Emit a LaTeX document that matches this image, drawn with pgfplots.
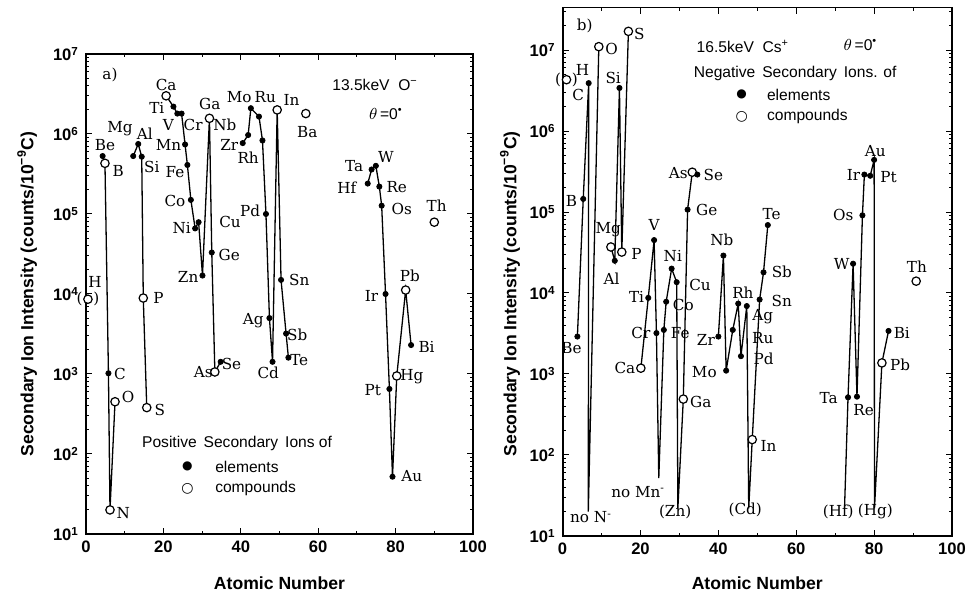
\documentclass[border=0pt]{standalone}
\usepackage{pgfplots}
\pgfplotsset{compat=1.18}
\usepackage{pgfplotstable}
\usepackage{fontspec}
\setmainfont{Liberation Sans}
\newfontfamily\serif{DejaVu Serif}
\newfontfamily\sym{DejaVu Sans}

% panel a: positive secondary ions (13.5 keV O-)
\pgfplotstableread{
z v c
0.5 8600 c
nan nan n
4.3 530000 e
4.9 430000 c
5.8 1020 e
6.2 20 c
7.5 450 c
nan nan n
12.2 530000 e
13.5 750000 e
14.4 520000 e
14.8 8900 c
15.7 380 c
nan nan n
20.7 3000000 c
22.6 2200000 e
23.6 1800000 e
24.7 1800000 e
25.6 740000 e
26.2 410000 e
27.1 150000 e
28.2 66000 e
29.1 79000 e
30.1 17000 e
31.9 1570000 c
32.5 33000 e
33.3 1060 c
34.8 1420 e
nan nan n
40.5 770000 e
41.9 970000 e
42.6 2100000 e
44.7 1650000 e
45.6 830000 e
46.5 100000 e
47.4 5000 e
48.2 1420 e
49.4 2000000 c
50.4 15000 e
51.7 3200 e
52.3 1600 e
nan nan n
56.8 1800000 c
nan nan n
72.8 240000 e
73.8 360000 e
74.9 400000 e
75.8 220000 e
76.4 127000 e
77.4 10000 e
78.4 650 e
79.2 52 e
80.3 945 c
82.6 11200 c
84.0 2300 e
nan nan n
90.0 79000 c
}\tabA

% panel b: negative secondary ions (16.5 keV Cs+)
\pgfplotstableread{
z v c
1.0 4300000 c
nan nan n
3.8 2900 e
5.3 145000 e
6.7 3900000 e
6.6 20 n
9.3 11000000 c
nan nan n
12.4 37000 c
13.4 25000 e
14.6 3400000 e
15.2 32000 c
16.9 17000000 c
nan nan n
20.1 1180 c
22.0 8700 e
23.5 45000 e
24.1 3200 e
24.7 52 n
26.0 3500 e
26.6 7800 e
28.0 20000 e
29.3 13600 e
29.6 22 n
31.0 490 c
32.1 107000 e
33.3 310000 c
34.6 290000 e
nan nan n
40.0 2900 e
41.3 29000 e
42.0 1100 e
43.7 3500 e
45.1 7400 e
45.8 1660 e
47.3 6900 e
47.8 22 n
48.7 155 c
50.6 8300 e
51.6 18000 e
52.7 69000 e
nan nan n
72.4 22 n
73.3 515 e
74.6 23000 e
75.6 525 e
77.0 91000 e
77.5 290000 e
79.0 280000 e
80.0 440000 e
80.1 22 n
82.0 1370 c
83.7 3400 e
nan nan n
90.8 14000 c
}\tabB

\tikzset{
  lab/.style={font=\fontsize{7.6}{8}\selectfont\serif, inner sep=0pt},
  txt/.style={font=\fontsize{7.8}{9}\selectfont, inner sep=0pt},
}

\begin{document}
\begin{tikzpicture}
\path[use as bounding box] (0,0) rectangle (488pt,296pt);

% ---------------- panel a ----------------
\begin{axis}[at={(43pt,29pt)}, anchor=south west,
  scale only axis, width=193.5pt, height=240pt,
  ymode=log, log basis y=10, ymin=10, ymax=10000000, xmin=0, xmax=100,
  xtick={0,20,40,60,80,100}, minor xtick={10,30,50,70,90},
  ytick={10,100,1000,10000,100000,1000000,10000000},
  yticklabels={10\textsuperscript{1},10\textsuperscript{2},10\textsuperscript{3},10\textsuperscript{4},10\textsuperscript{5},10\textsuperscript{6},10\textsuperscript{7}},
  minor ytick={20,30,40,50,60,70,80,90,200,300,400,500,600,700,800,900,2000,3000,4000,5000,6000,7000,8000,9000,20000,30000,40000,50000,60000,70000,80000,90000,200000,300000,400000,500000,600000,700000,800000,900000,2000000,3000000,4000000,5000000,6000000,7000000,8000000,9000000},
  tick align=inside, major tick length=3.2pt, minor tick length=1.7pt,
  axis line style={line width=0.9pt},
  every tick/.style={black, line width=0.5pt},
  tick label style={font=\fontsize{8.3}{9}\selectfont\bfseries},
  /pgf/number format/assume math mode=true,
  clip=false, unbounded coords=jump,
  label style={font=\fontsize{8.8}{10}\selectfont\bfseries},
  ylabel={Secondary Ion Intensity (counts/10\textsuperscript{−9}C)},
  xlabel={Atomic Number},
  xlabel style={at={(axis description cs:0.5,-0.102)}, anchor=center},
  ylabel style={at={(axis description cs:-0.152,0.5)}, anchor=center}]
\addplot[black, line width=0.65pt, mark=none, forget plot] table[x=z, y=v] {\tabA};
\addplot[scatter, only marks, forget plot, point meta=explicit symbolic,
    scatter/classes={
      e={mark=*, mark size=1.3pt, draw=black, fill=black},
      c={mark=*, mark size=2.1pt, draw=black, fill=white, line width=0.6pt},
      n={mark=none}}] table[x=z, y=v, meta=c] {\tabA};
\node[lab] at (axis cs:0.5,8600) {(\hspace{5.5pt})};
\node[lab] at (axis cs:2.3,14000) {H};
\node[lab] at (axis cs:4.9,730000) {Be};
\node[lab] at (axis cs:8.3,350000) {B};
\node[lab] at (axis cs:8.8,1170000) {Mg};
\node[lab] at (axis cs:15.2,1020000) {Al};
\node[lab] at (axis cs:17.0,390000) {Si};
\node[lab] at (axis cs:8.8,1000) {C};
\node[lab] at (axis cs:10.9,520) {O};
\node[lab] at (axis cs:9.6,18) {N};
\node[lab] at (axis cs:18.7,8900) {P};
\node[lab] at (axis cs:19.1,355) {S};
\node[lab] at (axis cs:20.7,4100000) {Ca};
\node[lab] at (axis cs:18.3,2100000) {Ti};
\node[lab] at (axis cs:21.3,1300000) {V};
\node[lab] at (axis cs:27.7,1300000) {Cr};
\node[lab] at (axis cs:21.3,730000) {Mn};
\node[lab] at (axis cs:23.0,330000) {Fe};
\node[lab] at (axis cs:23.0,145000) {Co};
\node[lab] at (axis cs:24.7,66000) {Ni};
\node[lab] at (axis cs:37.2,79000) {Cu};
\node[lab] at (axis cs:26.4,16500) {Zn};
\node[lab] at (axis cs:32.0,2400000) {Ga};
\node[lab] at (axis cs:37.0,31000) {Ge};
\node[lab] at (axis cs:30.3,1070) {As};
\node[lab] at (axis cs:37.6,1330) {Se};
\node[lab] at (axis cs:35.9,1300000) {Nb};
\node[lab] at (axis cs:39.6,2900000) {Mo};
\node[lab] at (axis cs:46.3,2900000) {Ru};
\node[lab] at (axis cs:53.1,2700000) {In};
\node[lab] at (axis cs:37.0,730000) {Zr};
\node[lab] at (axis cs:41.9,510000) {Rh};
\node[lab] at (axis cs:42.4,110000) {Pd};
\node[lab] at (axis cs:43.2,4700) {Ag};
\node[lab] at (axis cs:47.1,1020) {Cd};
\node[lab] at (axis cs:55.1,14800) {Sn};
\node[lab] at (axis cs:54.6,3100) {Sb};
\node[lab] at (axis cs:55.1,1500) {Te};
\node[lab] at (axis cs:57.2,1070000) {Ba};
\node[lab] at (axis cs:69.3,400000) {Ta};
\node[lab] at (axis cs:77.5,520000) {W};
\node[lab] at (axis cs:67.4,210000) {Hf};
\node[lab] at (axis cs:80.3,220000) {Re};
\node[lab] at (axis cs:81.6,117000) {Os};
\node[lab] at (axis cs:90.6,126000) {Th};
\node[lab] at (axis cs:73.8,9400) {Ir};
\node[lab] at (axis cs:83.7,16800) {Pb};
\node[lab] at (axis cs:88.0,2150) {Bi};
\node[lab] at (axis cs:84.2,930) {Hg};
\node[lab] at (axis cs:74.1,630) {Pt};
\node[lab] at (axis cs:84.2,53) {Au};
\node[lab] at (axis cs:6.2,5500000) {a)};
\node[txt] at (axis cs:74.7,4100000) {13.5keV\; O\textsuperscript{−}};
\node[txt] at (axis cs:77.5,1800000) {$\theta$\,=0\textsuperscript{•}};
\node[txt, anchor=west] at (axis cs:14.4,135) {Positive\, Secondary\, Ions of};
\node[txt] at (axis cs:26.2,69) {{\sym\fontsize{6}{6}\selectfont ●}};
\node[txt, anchor=west] at (axis cs:33.3,69) {elements};
\node[txt] at (axis cs:26.2,37) {{\sym\fontsize{7}{7}\selectfont ○}};
\node[txt, anchor=west] at (axis cs:33.3,37) {compounds};
\end{axis}

% ---------------- panel b ----------------
\begin{axis}[at={(281.3pt,28pt)}, anchor=south west,
  scale only axis, width=194.7pt, height=264.25pt,
  ymode=log, log basis y=10, ymin=10, ymax=33500000, xmin=0, xmax=100,
  xtick={0,20,40,60,80,100}, minor xtick={10,30,50,70,90},
  ytick={10,100,1000,10000,100000,1000000,10000000},
  yticklabels={10\textsuperscript{1},10\textsuperscript{2},10\textsuperscript{3},10\textsuperscript{4},10\textsuperscript{5},10\textsuperscript{6},10\textsuperscript{7}},
  minor ytick={20,30,40,50,60,70,80,90,200,300,400,500,600,700,800,900,2000,3000,4000,5000,6000,7000,8000,9000,20000,30000,40000,50000,60000,70000,80000,90000,200000,300000,400000,500000,600000,700000,800000,900000,2000000,3000000,4000000,5000000,6000000,7000000,8000000,9000000,20000000,30000000},
  tick align=inside, major tick length=3.2pt, minor tick length=1.7pt,
  axis line style={line width=0.9pt},
  every tick/.style={black, line width=0.5pt},
  tick label style={font=\fontsize{8.3}{9}\selectfont\bfseries},
  /pgf/number format/assume math mode=true,
  clip=false, unbounded coords=jump,
  label style={font=\fontsize{8.8}{10}\selectfont\bfseries},
  ylabel={Secondary Ion Intensity (counts/10\textsuperscript{−9}C)},
  xlabel={Atomic Number},
  xlabel style={at={(axis description cs:0.5,-0.089)}, anchor=center},
  ylabel style={at={(axis description cs:-0.135,0.458)}, anchor=center}]
\addplot[black, line width=0.65pt, mark=none, forget plot] table[x=z, y=v] {\tabB};
\addplot[scatter, only marks, forget plot, point meta=explicit symbolic,
    scatter/classes={
      e={mark=*, mark size=1.3pt, draw=black, fill=black},
      c={mark=*, mark size=2.1pt, draw=black, fill=white, line width=0.6pt},
      n={mark=none}}] table[x=z, y=v, meta=c] {\tabB};
\node[lab] at (axis cs:1.0,4300000) {(\hspace{5.5pt})};
\node[lab] at (axis cs:5.1,5600000) {H};
\node[lab] at (axis cs:4.0,2800000) {C};
\node[lab] at (axis cs:2.3,138000) {B};
\node[lab] at (axis cs:2.3,2100) {Be};
\node[lab] at (axis cs:12.6,10200000) {O};
\node[lab] at (axis cs:19.7,16000000) {S};
\node[lab] at (axis cs:13.0,4500000) {Si};
\node[lab] at (axis cs:11.7,60000) {Mg};
\node[lab] at (axis cs:12.6,15000) {Al};
\node[lab] at (axis cs:19.0,30000) {P};
\node[lab] at (axis cs:7.3,17) {no N\textsuperscript{-}};
\node[lab] at (axis cs:16.0,1180) {Ca};
\node[lab] at (axis cs:19.0,8900) {Ti};
\node[lab] at (axis cs:23.5,69000) {V};
\node[lab] at (axis cs:20.1,3200) {Cr};
\node[lab] at (axis cs:28.3,29000) {Ni};
\node[lab] at (axis cs:31.0,7200) {Co};
\node[lab] at (axis cs:30.2,3200) {Fe};
\node[lab] at (axis cs:35.3,12600) {Cu};
\node[lab] at (axis cs:19.4,35) {no Mn\textsuperscript{-}};
\node[lab] at (axis cs:28.9,20) {(Zn)};
\node[lab] at (axis cs:35.5,450) {Ga};
\node[lab] at (axis cs:29.7,300000) {As};
\node[lab] at (axis cs:38.7,290000) {Se};
\node[lab] at (axis cs:37.0,107000) {Ge};
\node[lab] at (axis cs:40.9,45000) {Nb};
\node[lab] at (axis cs:36.8,2600) {Zr};
\node[lab] at (axis cs:36.4,1070) {Mo};
\node[lab] at (axis cs:46.3,10000) {Rh};
\node[lab] at (axis cs:51.4,5100) {Ag};
\node[lab] at (axis cs:51.4,2800) {Ru};
\node[lab] at (axis cs:51.6,1550) {Pd};
\node[lab] at (axis cs:52.9,130) {In};
\node[lab] at (axis cs:46.9,21) {(Cd)};
\node[lab] at (axis cs:53.7,94000) {Te};
\node[lab] at (axis cs:56.3,18000) {Sb};
\node[lab] at (axis cs:56.3,7900) {Sn};
\node[lab] at (axis cs:68.3,500) {Ta};
\node[lab] at (axis cs:77.3,360) {Re};
\node[lab] at (axis cs:71.7,23000) {W};
\node[lab] at (axis cs:72.1,91000) {Os};
\node[lab] at (axis cs:74.7,290000) {Ir};
\node[lab] at (axis cs:80.3,570000) {Au};
\node[lab] at (axis cs:83.7,270000) {Pt};
\node[lab] at (axis cs:91.0,21000) {Th};
\node[lab] at (axis cs:87.1,3200) {Bi};
\node[lab] at (axis cs:86.7,1300) {Pb};
\node[lab] at (axis cs:70.8,20) {(Hf)};
\node[lab] at (axis cs:80.3,20) {(Hg)};
\node[lab] at (axis cs:5.7,20000000) {b)};
\node[txt] at (axis cs:46.3,11000000) {16.5keV\; Cs\textsuperscript{+}};
\node[txt] at (axis cs:76.5,11500000) {$\theta$\,=0\textsuperscript{•}};
\node[txt, anchor=west] at (axis cs:33.6,5100000) {Negative\, Secondary\, Ions. of};
\node[txt] at (axis cs:46.0,2800000) {{\sym\fontsize{6}{6}\selectfont ●}};
\node[txt, anchor=west] at (axis cs:52.4,2800000) {elements};
\node[txt] at (axis cs:46.0,1500000) {{\sym\fontsize{7}{7}\selectfont ○}};
\node[txt, anchor=west] at (axis cs:52.4,1500000) {compounds};
\end{axis}
\end{tikzpicture}
\end{document}
